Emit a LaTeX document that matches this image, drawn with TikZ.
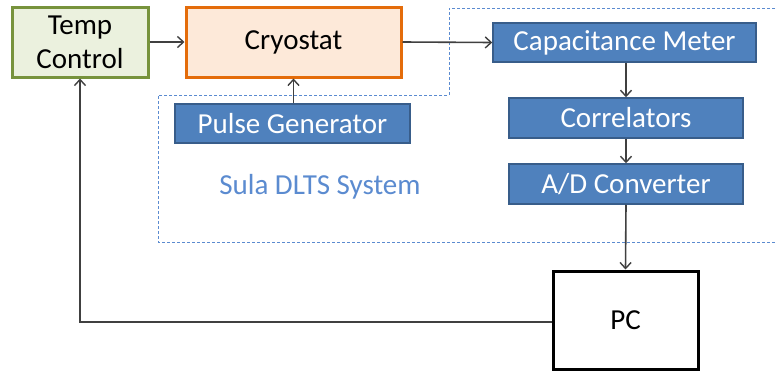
\documentclass[tikz,border=0pt]{standalone}
\usepackage{fontspec}
\setmainfont{Carlito}
\usetikzlibrary{arrows.meta}
\definecolor{tgreen}{HTML}{77933C}
\definecolor{tgreenfill}{HTML}{EBF1DE}
\definecolor{corange}{HTML}{E46C0A}
\definecolor{corangefill}{HTML}{FDE9D9}
\definecolor{bfill}{HTML}{4F81BD}
\definecolor{bdraw}{HTML}{385D8A}
\definecolor{dashblue}{HTML}{5B8BD0}
\definecolor{conn}{HTML}{404040}
\tikzset{
  txt/.style={font=\fontsize{29}{34}\selectfont},
  tempbox/.style={txt, draw=tgreen, fill=tgreenfill, line width=3pt, align=center, inner sep=0pt},
  cryobox/.style={txt, draw=corange, fill=corangefill, line width=3pt, inner sep=0pt},
  bluebox/.style={txt, draw=bdraw, fill=bfill, text=white, line width=1.5pt, inner sep=0pt},
  pcbox/.style={txt, draw=black, fill=white, line width=3pt, inner sep=0pt},
  conn/.style={draw=conn, line width=1.6pt, -{Straight Barb[length=6pt,width=11pt,line width=1.4pt]}},
  dashline/.style={draw=dashblue, line width=1pt, dash pattern=on 3pt off 2pt},
}
\begin{document}
\begin{tikzpicture}[x=1pt,y=-1pt]
\useasboundingbox (0,0) rectangle (777,370);
\fill[white] (0,0) rectangle (777,370);
\draw[dashline] (780,8) -- (449,8) -- (449,95) -- (158,95) -- (158,242) -- (780,242);
\node[tempbox, minimum width=136pt, minimum height=70pt] (temp) at (80,42) {Temp\\Control};
\node[cryobox, minimum width=215pt, minimum height=70pt] (cryo) at (293.5,42) {Cryostat};
\node[bluebox, minimum width=235pt, minimum height=39pt] (pulse) at (292.5,123.5) {Pulse Generator};
\node[bluebox, minimum width=263pt, minimum height=39pt] (cap) at (624.5,42.5) {Capacitance Meter};
\node[bluebox, minimum width=234pt, minimum height=40pt] (corr) at (626,118) {Correlators};
\node[bluebox, minimum width=234pt, minimum height=40pt] (adc) at (626,184) {A/D Converter};
\node[pcbox, minimum width=145pt, minimum height=98pt] (pc) at (625.5,320) {PC};
\node[txt, text=dashblue] (sula) at (320,187) {Sula DLTS System};
\coordinate (corner) at (80,322);
\draw[conn] (temp.east) -- (cryo.west);
\draw[conn] (cryo.east) -- (cap.west);
\draw[conn] (pulse.north -| cryo.south) -- (cryo.south);
\draw[conn] (cap.south -| corr.north) -- (corr.north);
\draw[conn] (corr.south) -- (adc.north);
\draw[conn] (adc.south) -- (pc.north);
\draw[conn] (pc.west |- corner) -- (corner) -- (temp.south);
\end{tikzpicture}
\end{document}
